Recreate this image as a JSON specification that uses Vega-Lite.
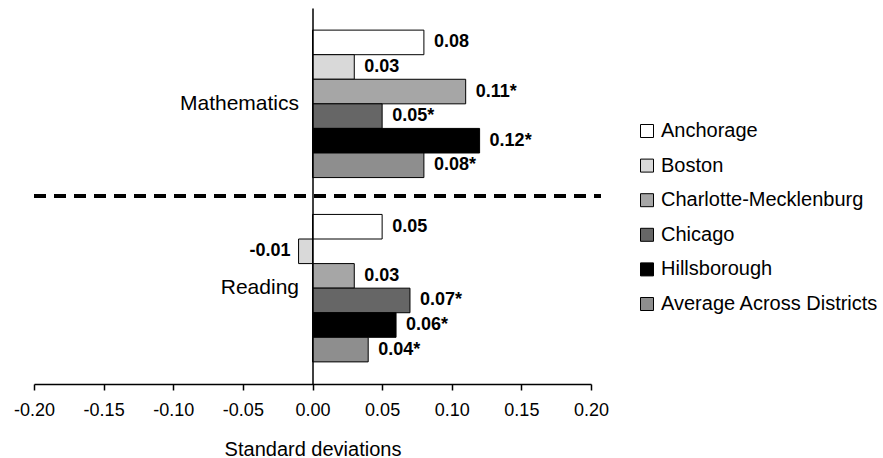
{
  "$schema": "https://vega.github.io/schema/vega-lite/v6.json",
  "width": 557,
  "height": 376,
  "autosize": {"type": "none"},
  "padding": {"left": 34, "top": 8, "right": 292, "bottom": 74},
  "background": "white",
  "config": {"font": "Liberation Sans", "view": {"stroke": null}},
  "data": {
    "values": [
      {"subject": "Mathematics", "district": "Anchorage", "value": 0.08, "label": "0.08"},
      {"subject": "Mathematics", "district": "Boston", "value": 0.03, "label": "0.03"},
      {"subject": "Mathematics", "district": "Charlotte-Mecklenburg", "value": 0.11, "label": "0.11*"},
      {"subject": "Mathematics", "district": "Chicago", "value": 0.05, "label": "0.05*"},
      {"subject": "Mathematics", "district": "Hillsborough", "value": 0.12, "label": "0.12*"},
      {"subject": "Mathematics", "district": "Average Across Districts", "value": 0.08, "label": "0.08*"},
      {"subject": "Reading", "district": "Anchorage", "value": 0.05, "label": "0.05"},
      {"subject": "Reading", "district": "Boston", "value": -0.01, "label": "-0.01"},
      {"subject": "Reading", "district": "Charlotte-Mecklenburg", "value": 0.03, "label": "0.03"},
      {"subject": "Reading", "district": "Chicago", "value": 0.07, "label": "0.07*"},
      {"subject": "Reading", "district": "Hillsborough", "value": 0.06, "label": "0.06*"},
      {"subject": "Reading", "district": "Average Across Districts", "value": 0.04, "label": "0.04*"}
    ]
  },
  "resolve": {"scale": {"y": "independent"}, "axis": {"y": "independent"}},
  "layer": [
    {
      "encoding": {
        "y": {
          "field": "subject",
          "type": "nominal",
          "scale": {"domain": ["Mathematics", "Reading"], "paddingInner": 0.2, "paddingOuter": 0.12},
          "axis": {
            "title": null,
            "offset": -278.5,
            "domainColor": "black",
            "domainWidth": 1.5,
            "ticks": false,
            "labelFontSize": 21,
            "labelColor": "black",
            "labelPadding": 14,
            "zindex": 1
          }
        },
        "yOffset": {
          "field": "district",
          "type": "nominal",
          "scale": {
            "domain": ["Anchorage", "Boston", "Charlotte-Mecklenburg", "Chicago", "Hillsborough", "Average Across Districts"],
            "paddingInner": 0,
            "paddingOuter": 0
          }
        },
        "x": {
          "field": "value",
          "type": "quantitative",
          "scale": {"domain": [-0.2, 0.2], "nice": false, "zero": false},
          "axis": {
            "title": "Standard deviations",
            "values": [-0.2, -0.15, -0.1, -0.05, 0, 0.05, 0.1, 0.15, 0.2],
            "labelExpr": "datum.value < 0 ? '-' + format(-datum.value, '.2f') : format(datum.value, '.2f')",
            "labelFlush": false,
            "labelOverlap": false,
            "grid": false,
            "domainColor": "black",
            "domainWidth": 1.5,
            "tickColor": "black",
            "tickSize": 6,
            "tickWidth": 1.5,
            "labelFontSize": 18,
            "labelColor": "black",
            "labelPadding": 11,
            "titleFontSize": 20,
            "titleFontWeight": "normal",
            "titleColor": "black",
            "titlePadding": 20
          }
        }
      },
      "layer": [
        {
          "mark": {"type": "bar", "stroke": "black", "strokeWidth": 1},
          "encoding": {
            "fill": {
              "field": "district",
              "type": "nominal",
              "scale": {
                "domain": ["Anchorage", "Boston", "Charlotte-Mecklenburg", "Chicago", "Hillsborough", "Average Across Districts"],
                "range": ["#ffffff", "#d9d9d9", "#a6a6a6", "#666666", "#000000", "#8e8e8e"]
              },
              "legend": {
                "title": null,
                "orient": "none",
                "legendX": 603,
                "legendY": 113,
                "symbolType": "square",
                "symbolSize": 169,
                "symbolStrokeColor": "black",
                "symbolStrokeWidth": 1,
                "labelFontSize": 20,
                "labelColor": "black",
                "labelOffset": 4,
                "rowPadding": 14.6,
                "labelLimit": 400
              }
            }
          }
        },
        {
          "transform": [{"filter": "datum.value >= 0"}],
          "mark": {"type": "text", "align": "left", "baseline": "middle", "dx": 10, "fontSize": 18, "fontWeight": "bold", "color": "black"},
          "encoding": {"text": {"field": "label", "type": "nominal"}}
        },
        {
          "transform": [{"filter": "datum.value < 0"}],
          "mark": {"type": "text", "align": "right", "baseline": "middle", "dx": -8, "fontSize": 18, "fontWeight": "bold", "color": "black"},
          "encoding": {"text": {"field": "label", "type": "nominal"}}
        }
      ]
    },
    {
      "mark": {"type": "rule", "strokeDash": [12, 8], "strokeWidth": 3, "color": "black"},
      "encoding": {
        "y": {"datum": 0.5, "type": "quantitative", "scale": {"domain": [0, 1]}, "axis": null},
        "x": {"datum": -0.2, "type": "quantitative", "scale": {"domain": [-0.2, 0.2], "nice": false, "zero": false}},
        "x2": {"datum": 0.207}
      }
    }
  ]
}
